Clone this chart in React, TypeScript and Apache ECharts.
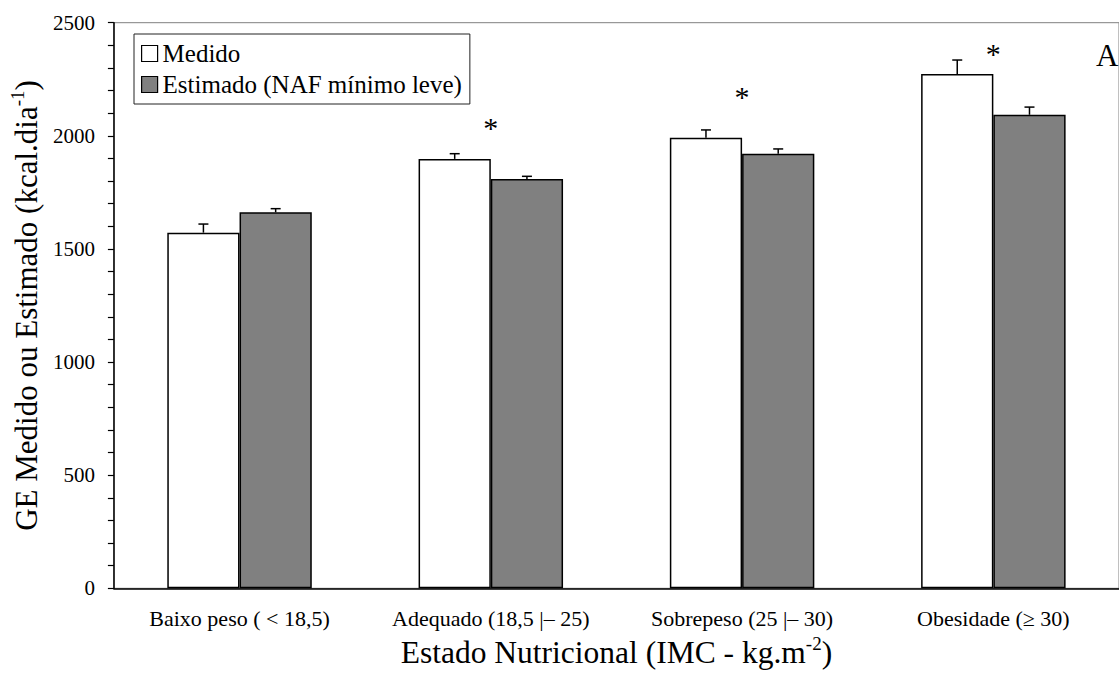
import React, { useEffect, useRef } from "react";
import * as echarts from "echarts";

const categories = [
  "Baixo peso ( < 18,5)",
  "Adequado (18,5 |– 25)",
  "Sobrepeso (25 |– 30)",
  "Obesidade (≥ 30)",
];
const medido = [1572, 1898, 1992, 2273];
const medidoErr = [38, 23, 34, 62];
const estimado = [1662, 1809, 1921, 2093];
const estimadoErr = [16, 12, 21, 34];
const asteriskCats = [1, 2, 3];
const asteriskY = [2035, 2172, 2366];
const yTicks = { min: 0, max: 2500, interval: 500 };

const FONT = "Liberation Serif";
const GAP = 0.425;

function errRender(side: number) {
  return (params: any, api: any) => {
    const idx = api.value(0);
    const v = api.value(1);
    const e = api.value(2);
    const band = api.size([1, 0])[0];
    const barW = (band * (1 - GAP)) / 2;
    const base = api.coord([idx, v]);
    const top = api.coord([idx, v + e]);
    const x = base[0] + (side * barW) / 2;
    const style = { stroke: "#000", lineWidth: 1.5 };
    return {
      type: "group",
      children: [
        { type: "line", shape: { x1: x, y1: base[1], x2: x, y2: top[1] }, style },
        { type: "line", shape: { x1: x - 5, y1: top[1], x2: x + 5, y2: top[1] }, style },
      ],
    };
  };
}

export default function App() {
  const ref = useRef<HTMLDivElement>(null);
  useEffect(() => {
    if (!ref.current) return;
    const chart = echarts.init(ref.current, undefined, { renderer: "svg" });
    const option: any = {
      animation: false,
      backgroundColor: "#fff",
      textStyle: { fontFamily: FONT },
      grid: {
        left: 110,
        top: 22.7,
        bottom: 86.7,
        right: -12,
        show: true,
        borderColor: "#808080",
        borderWidth: 1,
        backgroundColor: "transparent",
      },
      legend: {
        orient: "vertical",
        left: 134,
        top: 34,
        padding: [7, 8, 7, 7],
        itemWidth: 16,
        itemHeight: 16,
        itemGap: 6,
        icon: "rect",
        borderColor: "#222",
        borderWidth: 1,
        borderRadius: 0,
        backgroundColor: "#fff",
        itemStyle: { borderColor: "#000", borderWidth: 1.2 },
        textStyle: { fontFamily: FONT, fontSize: 25, color: "#000" },
        data: ["Medido", "Estimado (NAF mínimo leve)"],
      },
      xAxis: {
        type: "category",
        data: categories,
        boundaryGap: true,
        axisLine: { lineStyle: { color: "#000", width: 1.5 } },
        axisTick: { length: 6, lineStyle: { color: "#000", width: 1.2 } },
        axisLabel: { fontFamily: FONT, fontSize: 22, color: "#000", margin: 19, interval: 0 },
        name: "{a|Estado Nutricional (IMC - kg.m}{s|-2}{a|)}",
        nameLocation: "middle",
        nameGap: 35,
        nameTextStyle: {
          fontFamily: FONT,
          rich: {
            a: { fontFamily: FONT, fontSize: 31.5, color: "#000", lineHeight: 36 },
            s: { fontFamily: FONT, fontSize: 19, color: "#000", verticalAlign: "top", lineHeight: 36, padding: [0, 0, 15, 0] },
          },
        },
      },
      yAxis: {
        type: "value",
        min: yTicks.min,
        max: yTicks.max,
        interval: yTicks.interval,
        splitLine: { show: false },
        axisLine: { show: true, lineStyle: { color: "#000", width: 1.5 } },
        axisTick: { show: true, length: 6, lineStyle: { color: "#000", width: 1.2 } },
        minorTick: { show: true, splitNumber: 5, length: 6, lineStyle: { color: "#000", width: 1.2 } },
        axisLabel: {
          fontFamily: FONT,
          fontSize: 21,
          color: "#000",
          margin: 19,
          formatter: (v: number) => String(v),
        },
        name: "{a|GE Medido ou Estimado (kcal.dia}{s|-1}{a|)}",
        nameLocation: "middle",
        nameGap: 64,
        nameTextStyle: {
          fontFamily: FONT,
          rich: {
            a: { fontFamily: FONT, fontSize: 31, color: "#000", lineHeight: 36 },
            s: { fontFamily: FONT, fontSize: 19, color: "#000", verticalAlign: "top", lineHeight: 36, padding: [0, 0, 15, 0] },
          },
        },
      },
      series: [
        {
          name: "Medido",
          type: "bar",
          data: medido,
          barGap: "0%",
          barCategoryGap: GAP * 100 + "%",
          itemStyle: { color: "#ffffff", borderColor: "#000", borderWidth: 1.5 },
        },
        {
          name: "Estimado (NAF mínimo leve)",
          type: "bar",
          data: estimado,
          barGap: "0%",
          barCategoryGap: GAP * 100 + "%",
          itemStyle: { color: "#808080", borderColor: "#000", borderWidth: 1.5 },
        },
        {
          type: "custom",
          renderItem: errRender(-1),
          data: medido.map((v, i) => [i, v, medidoErr[i]]),
          z: 5,
          silent: true,
        },
        {
          type: "custom",
          renderItem: errRender(1),
          data: estimado.map((v, i) => [i, v, estimadoErr[i]]),
          z: 5,
          silent: true,
        },
        {
          type: "custom",
          renderItem: (params: any, api: any) => {
            const p = api.coord([api.value(0), api.value(1)]);
            return {
              type: "text",
              x: p[0],
              y: p[1],
              style: {
                text: "*",
                fontFamily: FONT,
                fontSize: 30,
                fill: "#000",
                align: "center",
                verticalAlign: "middle",
              },
            };
          },
          data: asteriskCats.map((c, i) => [c, asteriskY[i]]),
          z: 6,
          silent: true,
        },
      ],
      graphic: [
        {
          type: "text",
          left: 1096,
          top: 40,
          style: { text: "A", fontFamily: FONT, fontSize: 31, fill: "#000" },
        },
      ],
    };
    chart.setOption(option);
    return () => chart.dispose();
  }, []);
  return (
    <div
      ref={ref}
      style={{ position: "fixed", left: 0, top: 0, width: 1119, height: 675, background: "#fff" }}
    />
  );
}
